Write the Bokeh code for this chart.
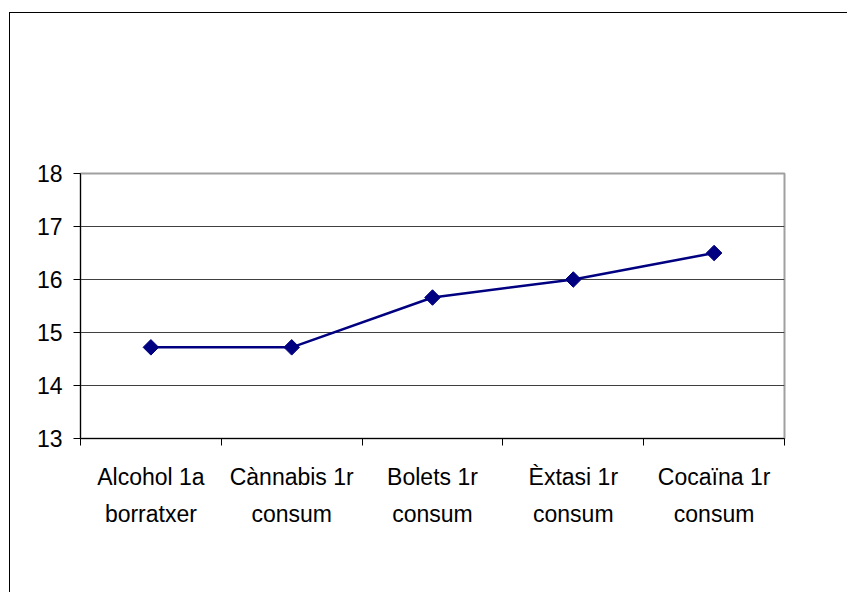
from bokeh.plotting import figure
from bokeh.models import FixedTicker, ColumnDataSource, Range1d
from bokeh.embed import file_html
from bokeh.resources import INLINE
import math

categories = ["Alcohol 1a\nborratxer", "Cànnabis 1r\nconsum", "Bolets 1r\nconsum",
              "Èxtasi 1r\nconsum", "Cocaïna 1r\nconsum"]
ages = [14.72, 14.72, 15.66, 16.0, 16.5]
y_ticks = [13, 14, 15, 16, 17, 18]

n = len(categories)
xs = [i + 0.5 for i in range(n)]
src = ColumnDataSource(dict(x=xs, y=ages))

p = figure(width=838, height=580, output_backend="svg", toolbar_location=None,
           x_range=Range1d(0, n), y_range=Range1d(min(y_ticks), max(y_ticks)),
           min_border_left=70, min_border_right=64, min_border_top=160, min_border_bottom=155)
p.styles = {"margin-left": "9px", "margin-top": "12px",
            "border-left": "1px solid #000", "border-top": "1px solid #000"}

p.outline_line_color = "#a0a0a0"
p.outline_line_width = 2
p.background_fill_color = "white"
p.border_fill_color = "white"

FONT = "Liberation Sans"

# x axis
p.xaxis.ticker = FixedTicker(ticks=xs, minor_ticks=list(range(n + 1)))
p.xaxis.major_label_overrides = {x: c for x, c in zip(xs, categories)}
p.xaxis.major_tick_out = 0
p.xaxis.major_tick_in = 0
p.xaxis.minor_tick_out = 7
p.xaxis.minor_tick_in = 0
p.xaxis.minor_tick_line_color = "black"
p.xaxis.axis_line_color = "black"
p.xaxis.major_label_standoff = 18
p.xaxis.major_label_text_font = FONT
p.xaxis.major_label_text_font_size = "23px"
p.xaxis.major_label_text_color = "black"
p.xaxis.major_label_text_line_height = 1.45
p.xgrid.visible = False

# y axis
p.yaxis.ticker = FixedTicker(ticks=y_ticks)
p.yaxis.minor_tick_line_color = None
p.yaxis.major_tick_out = 7
p.yaxis.major_tick_in = 0
p.yaxis.axis_line_color = "black"
p.yaxis.major_tick_line_color = "black"
p.yaxis.major_label_standoff = 11
p.yaxis.major_label_text_font = FONT
p.yaxis.major_label_text_font_size = "23px"
p.yaxis.major_label_text_color = "black"
p.ygrid.ticker = FixedTicker(ticks=y_ticks[1:-1])
p.ygrid.grid_line_color = "#404040"
p.ygrid.grid_line_width = 1

p.line("x", "y", source=src, line_color="#000080", line_width=2.5)
p.scatter("x", "y", source=src, marker="square", angle=math.pi / 4, size=11,
          fill_color="#000080", line_color="#000080")

open("out.html", "w").write(file_html(p, INLINE))
